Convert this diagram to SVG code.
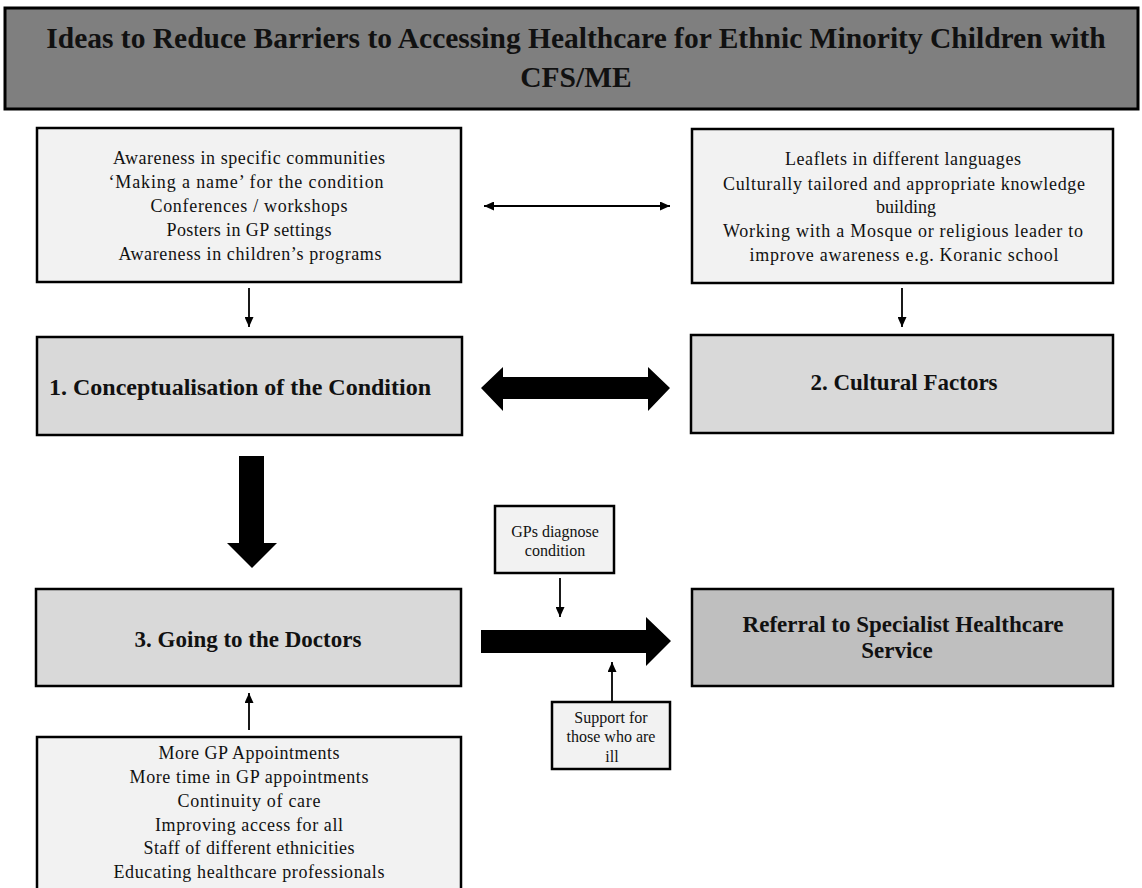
<svg xmlns="http://www.w3.org/2000/svg" width="1142" height="888" viewBox="0 0 1142 888">
  <style>
    .box { stroke: #000; stroke-width: 2.5; }
    .light { fill: #f2f2f2; }
    .mid { fill: #d9d9d9; }
    .dark { fill: #bfbfbf; }
    .head { fill: #7f7f7f; stroke: #000; stroke-width: 3; }
    text { font-family: "Liberation Serif", "Times New Roman", serif; fill: #111; text-anchor: middle; }
    .t { font-size: 18px; }
    .s { font-size: 16px; }
    .b { font-weight: bold; font-size: 23px; }
    .title { font-weight: bold; font-size: 29.5px; }
    .thin { stroke: #000; stroke-width: 1.8; fill: none; }
    .fat { fill: #000; }
  </style>
  <defs>
    <marker id="tip" markerUnits="userSpaceOnUse" markerWidth="10" markerHeight="9" viewBox="0 0 10 9" refX="10" refY="4.5" orient="auto-start-reverse">
      <path d="M0,0 L10,4.5 L0,9 z" fill="#000"/>
    </marker>
  </defs>

  <rect width="1142" height="888" fill="#fff"/>

  <!-- heading banner -->
  <g id="title">
    <rect class="head" x="5" y="8" width="1133" height="101"/>
    <text class="title" x="576" y="48">Ideas to Reduce Barriers to Accessing Healthcare for Ethnic Minority Children with</text>
    <text class="title" x="576" y="87">CFS/ME</text>
  </g>

  <!-- connectors -->
  <g id="connectors">
    <line class="thin" x1="249" y1="288" x2="249" y2="327" marker-end="url(#tip)"/>
    <line class="thin" x1="902" y1="288" x2="902" y2="327" marker-end="url(#tip)"/>
    <line class="thin" x1="484" y1="206" x2="670" y2="206" marker-start="url(#tip)" marker-end="url(#tip)"/>
    <line class="thin" x1="560" y1="578" x2="560" y2="617" marker-end="url(#tip)"/>
    <line class="thin" x1="612" y1="701" x2="612" y2="662" marker-end="url(#tip)"/>
    <line class="thin" x1="249" y1="730" x2="249" y2="693" marker-end="url(#tip)"/>
    <!-- block arrows -->
    <polygon class="fat" points="481,388 503,367 503,377 648,377 648,367 670,388 648,411 648,399 503,399 503,411"/>
    <polygon class="fat" points="239,456 264,456 264,543 277,543 252,568 227,543 239,543"/>
    <polygon class="fat" points="481,630 646,630 646,617 671,641 646,666 646,653 481,653"/>
  </g>

  <g id="awareness">
    <rect class="box light" x="37" y="128" width="424" height="154"/>
    <text class="t" x="249" y="164" textLength="272" lengthAdjust="spacing">Awareness in specific  communities</text>
    <text class="t" x="246" y="188" textLength="275" lengthAdjust="spacing">‘Making  a name’  for the condition</text>
    <text class="t" x="249" y="212" textLength="197" lengthAdjust="spacing">Conferences  / workshops</text>
    <text class="t" x="249" y="236" textLength="165" lengthAdjust="spacing">Posters in  GP settings</text>
    <text class="t" x="250" y="260" textLength="263" lengthAdjust="spacing">Awareness  in children’s  programs</text>
  </g>

  <g id="cultural-ideas">
    <rect class="box light" x="692" y="129" width="421" height="154"/>
    <text class="t" x="903" y="165" textLength="236" lengthAdjust="spacing">Leaflets  in different  languages</text>
    <text class="t" x="904" y="190" textLength="362" lengthAdjust="spacing">Culturally  tailored  and appropriate  knowledge</text>
    <text class="t" x="906" y="213">building</text>
    <text class="t" x="903" y="237" textLength="360" lengthAdjust="spacing">Working  with  a Mosque  or religious  leader  to</text>
    <text class="t" x="904" y="261" textLength="309" lengthAdjust="spacing">improve  awareness  e.g. Koranic  school</text>
  </g>

  <g id="conceptualisation">
    <rect class="box mid" x="37" y="337" width="425" height="98"/>
    <text class="b" x="240" y="395" style="font-size:24px">1. Conceptualisation of the Condition</text>
  </g>

  <g id="cultural-factors">
    <rect class="box mid" x="691" y="335" width="422" height="98"/>
    <text class="b" x="904" y="390">2. Cultural Factors</text>
  </g>

  <g id="going-to-doctors">
    <rect class="box mid" x="36" y="589" width="425" height="97"/>
    <text class="b" x="248" y="647">3. Going to the Doctors</text>
  </g>

  <g id="referral">
    <rect class="box dark" x="692" y="589" width="421" height="97"/>
    <text class="b" x="903" y="632">Referral to Specialist Healthcare</text>
    <text class="b" x="897" y="658">Service</text>
  </g>

  <g id="gp-diagnose">
    <rect class="box light" x="495" y="506" width="119" height="67"/>
    <text class="s" x="555" y="537">GPs  diagnose</text>
    <text class="s" x="555" y="556">condition</text>
  </g>

  <g id="support">
    <rect class="box light" x="552" y="702" width="118" height="67"/>
    <text class="s" x="611" y="723">Support for</text>
    <text class="s" x="611" y="742">those who are</text>
    <text class="s" x="612" y="762">ill</text>
  </g>

  <g id="access-ideas">
    <rect class="box light" x="37" y="737" width="424" height="160"/>
    <text class="t" x="249" y="759" textLength="181" lengthAdjust="spacing">More GP Appointments</text>
    <text class="t" x="249" y="783" textLength="239" lengthAdjust="spacing">More  time  in  GP appointments</text>
    <text class="t" x="249" y="807" textLength="143" lengthAdjust="spacing">Continuity  of care</text>
    <text class="t" x="249" y="831" textLength="188" lengthAdjust="spacing">Improving  access for  all</text>
    <text class="t" x="249" y="854" textLength="211" lengthAdjust="spacing">Staff  of different  ethnicities</text>
    <text class="t" x="249" y="878" textLength="271" lengthAdjust="spacing">Educating  healthcare  professionals</text>
  </g>
</svg>
